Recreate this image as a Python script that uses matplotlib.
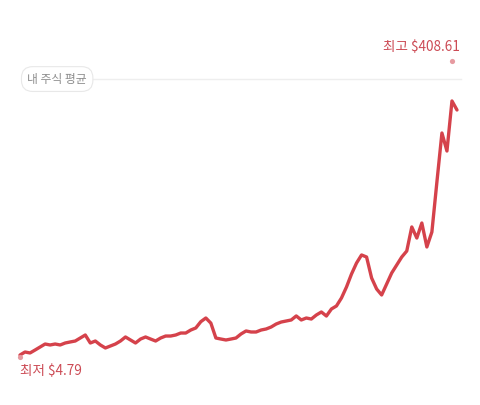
"""
주가 라인 차트 (최저/최고 표시, 내 주식 평균 라인) 재현.
"""
import matplotlib

matplotlib.use("Agg")
import matplotlib.pyplot as plt
import numpy as np

plt.rcParams["font.family"] = ["Noto Sans CJK KR", "DejaVu Sans"]

# 주가 (달러), 균등 간격 샘플
prices = [
    7.5, 11.6, 10.3, 14.3, 18.4, 22.5, 21.2, 22.5, 21.2, 23.9,
    25.3, 26.6, 30.7, 34.8, 23.9, 26.6, 21.2, 17.1, 19.8, 22.5,
    26.6, 32.1, 28.0, 23.9, 29.3, 32.1, 29.3, 26.6, 30.7, 33.4,
    33.4, 34.8, 37.5, 37.5, 41.6, 44.4, 53.0, 58.0, 51.0, 30.7,
    29.3, 28.0, 29.3, 30.7, 36.2, 40.3, 38.9, 38.9, 41.6, 43.0,
    45.7, 49.8, 52.5, 53.9, 55.3, 60.8, 55.3, 58.0, 56.6, 62.1,
    66.2, 60.7, 70.3, 74.4, 85.3, 100.3, 118.0, 133.0, 144.0, 141.2,
    112.6, 97.6, 89.4, 104.4, 119.4, 130.3, 141.2, 149.4, 182.2, 167.1,
    187.6, 154.9, 175.3, 243.6, 310.4, 285.8, 354.1, 341.8,
]
low_price = 4.79
high_price = 408.61
low_idx = 0
high_idx = 86
avg_price = 384.0  # 내 주식 평균 (추정)

RED = "#d5424b"
DOT = "#e69aa0"
LABEL_RED = "#cc4b55"

x = np.arange(len(prices))

fig = plt.figure(figsize=(4.8, 4.05), dpi=100)
ax = fig.add_axes([0, 0, 1, 1])
ax.set_xlim(-3.98, 91.58)
ax.set_ylim(-60.7, 491.85)
ax.axis("off")

ax.axhline(avg_price, xmin=0.05, xmax=0.96, color="#eeeeee", linewidth=1.0, zorder=1)
ax.text(0.057, avg_price, "내 주식 평균", transform=ax.get_yaxis_transform(),
        ha="left", va="center", fontsize=8.5, color="#8c8c8c", zorder=3,
        bbox=dict(boxstyle="round,pad=0.5,rounding_size=0.95",
                  facecolor="white", edgecolor="#e8e8e8", linewidth=0.8))

ax.plot(x, prices, color=RED, linewidth=2.4, solid_joinstyle="round",
        solid_capstyle="round", zorder=2)

ax.scatter([low_idx, high_idx], [low_price, high_price], s=14, color=DOT,
           zorder=4, linewidths=0)

ax.annotate(f"최고 ${high_price:.2f}", (high_idx, high_price), xytext=(6, 5),
            textcoords="offset points", ha="right", va="bottom",
            fontsize=9.8, fontweight="medium", color=LABEL_RED)
ax.annotate(f"최저 ${low_price:.2f}", (low_idx, low_price), xytext=(0, -5),
            textcoords="offset points", ha="left", va="top",
            fontsize=9.8, fontweight="medium", color=LABEL_RED)

fig.savefig("out.png", dpi=100)
